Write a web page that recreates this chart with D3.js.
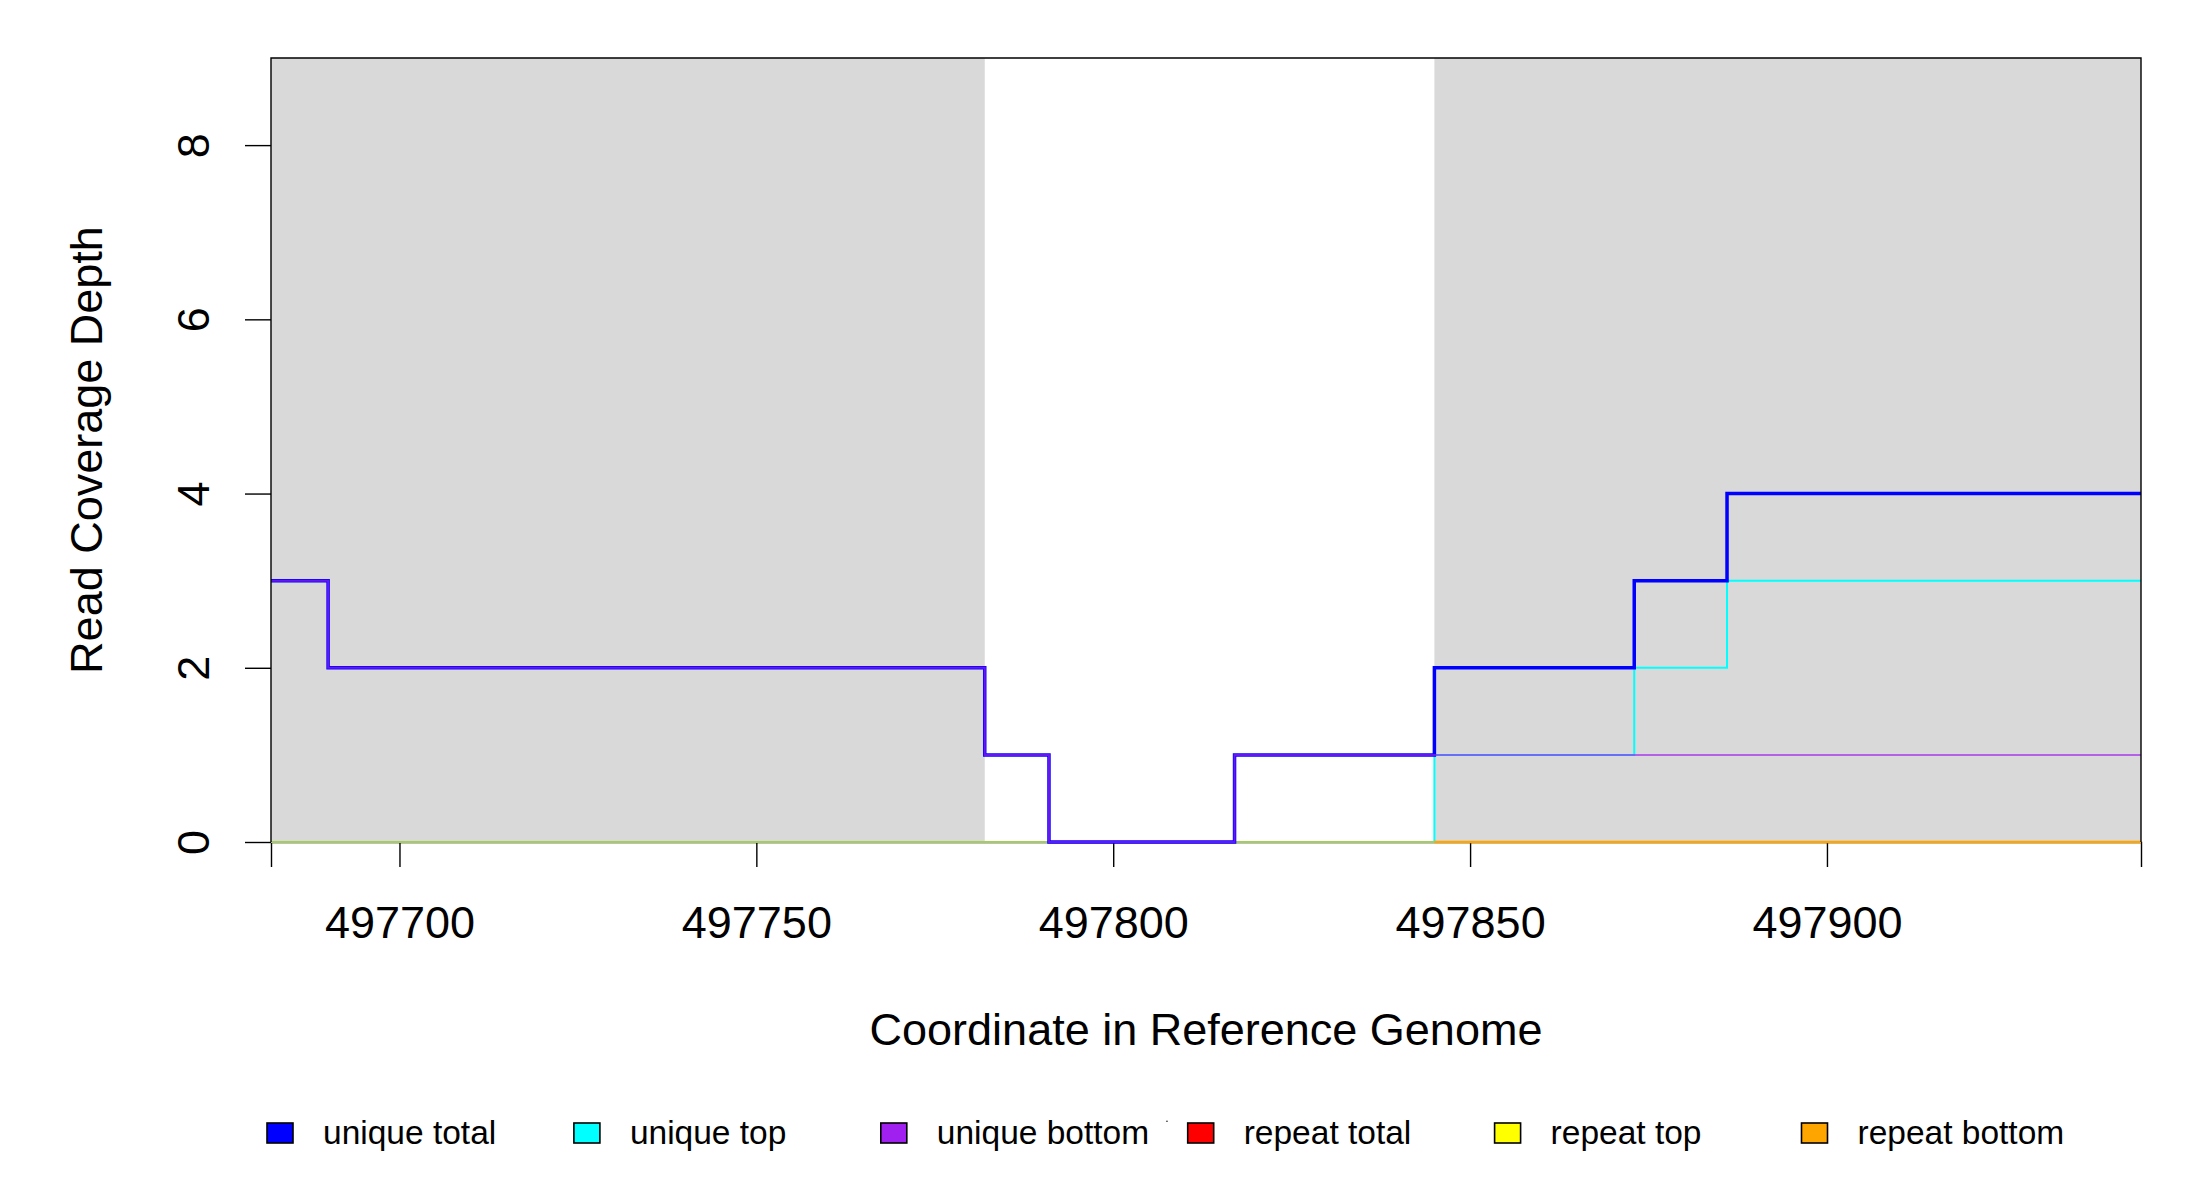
<!DOCTYPE html>
<html>
<head>
<meta charset="utf-8">
<script src="https://cdn.jsdelivr.net/npm/d3@7"></script>
<style>
  body { margin: 0; background: #fff; }
  svg { font-family: "Liberation Sans", Arial, sans-serif; }
</style>
</head>
<body>
<script>
// step breakpoints along the genome (each value holds until the next coordinate)
const coords = [497682, 497690, 497782, 497791, 497817, 497845, 497873, 497886, 497944]
const uniqueTotal  = [3, 2, 1, 0, 1, 2, 3, 4, 4]
const uniqueTop    = [0, 0, 0, 0, 0, 1, 2, 3, 3]
const uniqueBottom = [3, 2, 1, 0, 1, 1, 1, 1, 1]
const repeatTotal  = [0, 0, 0, 0, 0, 0, 0, 0, 0]
const repeatTop    = [0, 0, 0, 0, 0, 0, 0, 0, 0]
const repeatBottom = [null, null, null, null, null, 0, 0, 0, 0]

// shaded regions [start, end]
const shaded = [[497682, 497782], [497845, 497944]]

const xTicks = [497700, 497750, 497800, 497850, 497900]
const yTicks = [0, 2, 4, 6, 8]

const legendNames = ["unique total", "unique top", "unique bottom", "repeat total", "repeat top", "repeat bottom"]
const legendColors = ["#0000ff", "#00ffff", "#a020f0", "#ff0000", "#ffff00", "#ffa500"]

const W = 2200, H = 1200
const margin = { top: 58, right: 59, bottom: 358, left: 271 }
const width = W - margin.left - margin.right
const height = H - margin.top - margin.bottom

const svg = d3.select("body").append("svg")
    .attr("width", W)
    .attr("height", H)

const g = svg.append("g")
    .attr("transform", `translate(${margin.left},${margin.top})`)

const x = d3.scaleLinear().domain([497682, 497944]).range([0, width])
const y = d3.scaleLinear().domain([0, 9]).range([height, 0])

// grey background blocks
g.selectAll(".shade")
    .data(shaded)
    .join("rect")
    .attr("x", d => x(d[0]))
    .attr("y", 0)
    .attr("width", d => x(d[1]) - x(d[0]))
    .attr("height", height)
    .attr("fill", "#d9d9d9")

// x axis
const xAxis = g.append("g")
    .attr("transform", `translate(0,${height})`)
    .call(d3.axisBottom(x).tickValues(xTicks).tickFormat(d3.format("d")).tickSize(25).tickPadding(39))
xAxis.select(".domain").attr("stroke-width", 1.4)
xAxis.selectAll(".tick line").attr("stroke-width", 1.4)
xAxis.selectAll("text").attr("font-size", 45).attr("fill", "#000")

// y axis with rotated labels
const yAxis = g.append("g")
    .call(d3.axisLeft(y).tickValues(yTicks).tickSize(26))
yAxis.select(".domain").remove()
yAxis.selectAll(".tick line").attr("stroke-width", 1.4)
yAxis.selectAll("text")
    .attr("x", 0).attr("dy", 0)
    .attr("transform", "translate(-62,0) rotate(-90)")
    .attr("text-anchor", "middle")
    .attr("font-size", 45)
    .attr("fill", "#000")

// coverage step lines, in drawing order (unique total / bottom end up on top)
const series = [
    { vals: uniqueTop, color: legendColors[1], w: 2, op: 1 },
    { vals: repeatTotal, color: legendColors[3], w: 2, op: 0.35 },
    { vals: repeatTop, color: legendColors[4], w: 2, op: 0.45 },
    { vals: repeatBottom, color: legendColors[5], w: 2.5, op: 1 },
    { vals: uniqueTotal, color: legendColors[0], w: 3.5, op: 1 },
    { vals: uniqueBottom, color: legendColors[2], w: 2, op: 0.65 }
]

const line = d3.line()
    .defined(d => d[1] !== null)
    .x(d => x(d[0]))
    .y(d => y(d[1]))
    .curve(d3.curveStepAfter)

g.selectAll(".cov")
    .data(series)
    .join("path")
    .attr("class", "cov")
    .attr("d", s => line(coords.map((c, i) => [c, s.vals[i]])))
    .attr("fill", "none")
    .attr("stroke", s => s.color)
    .attr("stroke-width", s => s.w)
    .attr("stroke-opacity", s => s.op)

// plot box (bottom edge sits under the coverage lines)
g.append("path")
    .attr("d", `M0,${height}V0H${width}V${height}`)
    .attr("fill", "none")
    .attr("stroke", "#000")
    .attr("stroke-width", 1.4)

// axis titles
svg.append("text")
    .attr("x", margin.left + width / 2)
    .attr("y", 1045)
    .attr("text-anchor", "middle")
    .attr("font-size", 45)
    .text("Coordinate in Reference Genome")

svg.append("text")
    .attr("transform", `translate(102,${margin.top + height / 2}) rotate(-90)`)
    .attr("text-anchor", "middle")
    .attr("font-size", 45)
    .text("Read Coverage Depth")

// legend along the bottom
const legend = svg.append("g")
    .selectAll("g")
    .data(legendNames)
    .join("g")
    .attr("transform", (d, i) => `translate(${267 + i * 306.9},1123)`)

legend.append("rect")
    .attr("width", 26)
    .attr("height", 20)
    .attr("fill", (d, i) => legendColors[i])
    .attr("stroke", "#000")
    .attr("stroke-width", 1.6)

legend.append("text")
    .attr("x", 56)
    .attr("y", 21)
    .attr("font-size", 33.5)
    .text(d => d)

svg.append("text")
    .attr("x", 1167)
    .attr("y", 1122)
    .attr("font-size", 12)
    .attr("text-anchor", "middle")
    .text(".")
</script>
</body>
</html>
